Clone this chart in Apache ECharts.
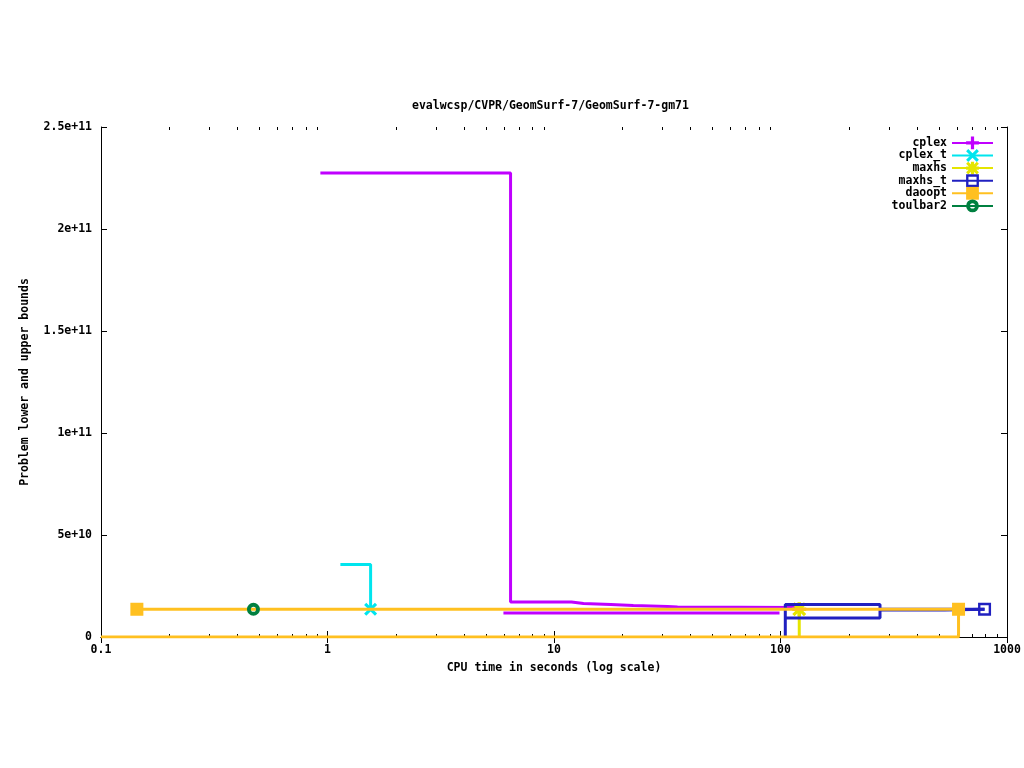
<!DOCTYPE html>
<html>
<head>
<meta charset="utf-8">
<script src="https://cdn.jsdelivr.net/npm/echarts@6/dist/echarts.min.js"></script>
<style>
html, body { margin: 0; padding: 0; background: #fff; }
#chart { width: 1024px; height: 768px; }
</style>
</head>
<body>
<div id="chart"></div>
<script>
var FONT = 'DejaVu Sans Mono';

// axes
var xMin = 0.1, xMax = 1000;
var minorTicks = [0.2, 0.3, 0.4, 0.5, 0.6, 0.7, 0.8, 0.9,
                  2, 3, 4, 5, 6, 7, 8, 9,
                  20, 30, 40, 50, 60, 70, 80, 90,
                  200, 300, 400, 500, 600, 700, 800, 900];
var yMax = 2.5e11, yStep = 5e10;

var names = ['cplex', 'cplex_t', 'maxhs', 'maxhs_t', 'daoopt', 'toulbar2'];
var colors = ['#c000ff', '#00e5ee', '#e5e500', '#2020c0', '#ffc020', '#008040'];

// [time, bound] step points
var cplexUpper = [[0.93, 2.275e11], [6.43, 1.72e10], [11.95, 1.64e10], [13.5, 1.59e10],
                  [17.8, 1.54e10], [22.4, 1.50e10], [31.7, 1.47e10], [35.1, 1.44e10], [120, 1.44e10]];
var cplexLower = [[5.98, 1.18e10], [99, 1.18e10]];
var cplexTUpper = [[1.14, 3.56e10], [1.55, 1.36e10]];
var maxhsBound = [[121, 0], [121, 1.36e10]];
var maxhsTUpper = [[105, 9.3e9], [105, 1.59e10], [275, 1.36e10], [796, 1.36e10]];
var maxhsTLower = [[105, 0], [105, 9.3e9], [275, 1.32e10], [530, 1.36e10], [796, 1.36e10]];
var daooptUpper = [[0.144, 1.36e10], [611, 1.36e10]];
var daooptLower = [[0.1, 0], [611, 1.36e10]];
var toulbar2Upper = [[0.471, 1.36e10]];

var PLUS = 'M4.5,0H7.5V4.5H12V7.5H7.5V12H4.5V7.5H0V4.5H4.5Z';
var CROSS = 'M0,2L2,0L6,4L10,0L12,2L8,6L12,10L10,12L6,8L2,12L0,10L4,6Z';
var SYM_PLUS = 'path://' + PLUS;
var SYM_CROSS = 'path://' + CROSS;
var SYM_STAR = 'path://' + PLUS + ' ' + CROSS;
var SYM_OSQUARE = 'path://M0,0H12V12H0Z M2.2,2.2V9.8H9.8V2.2Z';
var SYM_OCIRCLE = 'path://M6,0A6,6 0 1,1 6,12A6,6 0 1,1 6,0Z M6,3.6A2.4,2.4 0 1,0 6,8.4A2.4,2.4 0 1,0 6,3.6Z';

// points with a marker drawn, everything else has no symbol
function mk(pts, marks) {
  return pts.map(function (p, i) {
    var it = { value: p };
    if (marks.indexOf(i) < 0) it.symbol = 'none';
    return it;
  });
}

var zc = 2;
function line(idx, data, symbol, size) {
  return {
    name: names[idx],
    type: 'line',
    step: 'end',
    data: data,
    symbol: symbol,
    symbolSize: size,
    showAllSymbol: true,
    color: colors[idx],
    lineStyle: { width: 3, color: colors[idx] },
    itemStyle: { color: colors[idx] },
    z: zc++,
    animation: false
  };
}

var chart = echarts.init(document.getElementById('chart'));

var axisText = { fontFamily: FONT, fontSize: 11.5, fontWeight: 'bold', color: '#000' };

var option = {
  backgroundColor: '#fff',
  animation: false,
  title: {
    text: 'evalwcsp/CVPR/GeomSurf-7/GeomSurf-7-gm71',
    left: 412,
    top: 100,
    padding: 0,
    textStyle: { fontFamily: FONT, fontSize: 11.5, fontWeight: 'bold', color: '#000' }
  },
  legend: {
    orient: 'vertical',
    align: 'right',
    right: 30,
    top: 136.5,
    padding: 0,
    itemWidth: 41,
    itemHeight: 16,
    itemGap: -0.2,
    data: names,
    selectedMode: false,
    textStyle: { fontFamily: FONT, fontSize: 11.5, fontWeight: 'bold', color: '#000', lineHeight: 12 }
  },
  grid: { left: 101, right: 17, top: 127, bottom: 131 },
  xAxis: [{
    type: 'log',
    logBase: 10,
    min: xMin,
    max: xMax,
    name: 'CPU time in seconds (log scale)',
    nameLocation: 'middle',
    nameGap: 25,
    nameTextStyle: axisText,
    axisLine: { lineStyle: { color: '#000', width: 1 } },
    axisTick: { inside: true, length: 6, lineStyle: { color: '#000' } },
    axisLabel: {
      margin: 7,
      fontFamily: FONT, fontSize: 11.5, fontWeight: 'bold', color: '#000',
      formatter: function (v) { return String(+v.toPrecision(6)); }
    },
    splitLine: { show: false }
  }, {
    type: 'log',
    logBase: 10,
    min: xMin,
    max: xMax,
    position: 'top',
    axisLine: { lineStyle: { color: '#000', width: 1 } },
    axisTick: { inside: true, length: 6, lineStyle: { color: '#000' } },
    axisLabel: { show: false },
    splitLine: { show: false }
  }],
  yAxis: [{
    type: 'value',
    min: 0,
    max: yMax,
    interval: yStep,
    name: 'Problem lower and upper bounds',
    nameLocation: 'middle',
    nameRotate: 90,
    nameGap: 70,
    nameTextStyle: axisText,
    axisLine: { show: true, lineStyle: { color: '#000', width: 1 } },
    axisTick: { show: true, inside: true, length: 6, lineStyle: { color: '#000' } },
    axisLabel: {
      margin: 9,
      fontFamily: FONT, fontSize: 11.5, fontWeight: 'bold', color: '#000',
      formatter: function (v) { return v === 0 ? '0' : v.toExponential(); }
    },
    splitLine: { show: false }
  }, {
    type: 'value',
    min: 0,
    max: yMax,
    interval: yStep,
    position: 'right',
    axisLine: { show: true, lineStyle: { color: '#000', width: 1 } },
    axisTick: { show: true, inside: true, length: 6, lineStyle: { color: '#000' } },
    axisLabel: { show: false },
    splitLine: { show: false }
  }],
  series: [
    {
      type: 'custom',
      silent: true,
      z: 1,
      xAxisIndex: 0,
      yAxisIndex: 0,
      data: minorTicks.map(function (v) { return [v, 0]; }),
      renderItem: function (params, api) {
        var x = Math.round(api.coord([api.value(0), 0])[0]) + 0.5;
        var cs = params.coordSys;
        var b = cs.y + cs.height;
        return {
          type: 'group',
          children: [
            { type: 'line', shape: { x1: x, y1: b, x2: x, y2: b - 3 }, style: { stroke: '#000', lineWidth: 1 } },
            { type: 'line', shape: { x1: x, y1: cs.y, x2: x, y2: cs.y + 3 }, style: { stroke: '#000', lineWidth: 1 } }
          ]
        };
      }
    },
    line(0, mk(cplexUpper, []), SYM_PLUS, 13),
    line(0, mk(cplexLower, []), SYM_PLUS, 13),
    line(1, mk(cplexTUpper, [1]), SYM_CROSS, 13),
    line(2, mk(maxhsBound, [1]), SYM_STAR, 14),
    line(3, mk(maxhsTUpper, [3]), SYM_OSQUARE, 13),
    line(3, mk(maxhsTLower, []), SYM_OSQUARE, 13),
    line(4, mk(daooptUpper, [0, 1]), 'rect', 13),
    line(4, mk(daooptLower, []), 'rect', 13),
    line(5, mk(toulbar2Upper, [0]), SYM_OCIRCLE, 13)
  ]
};

chart.setOption(option);
</script>
</body>
</html>
